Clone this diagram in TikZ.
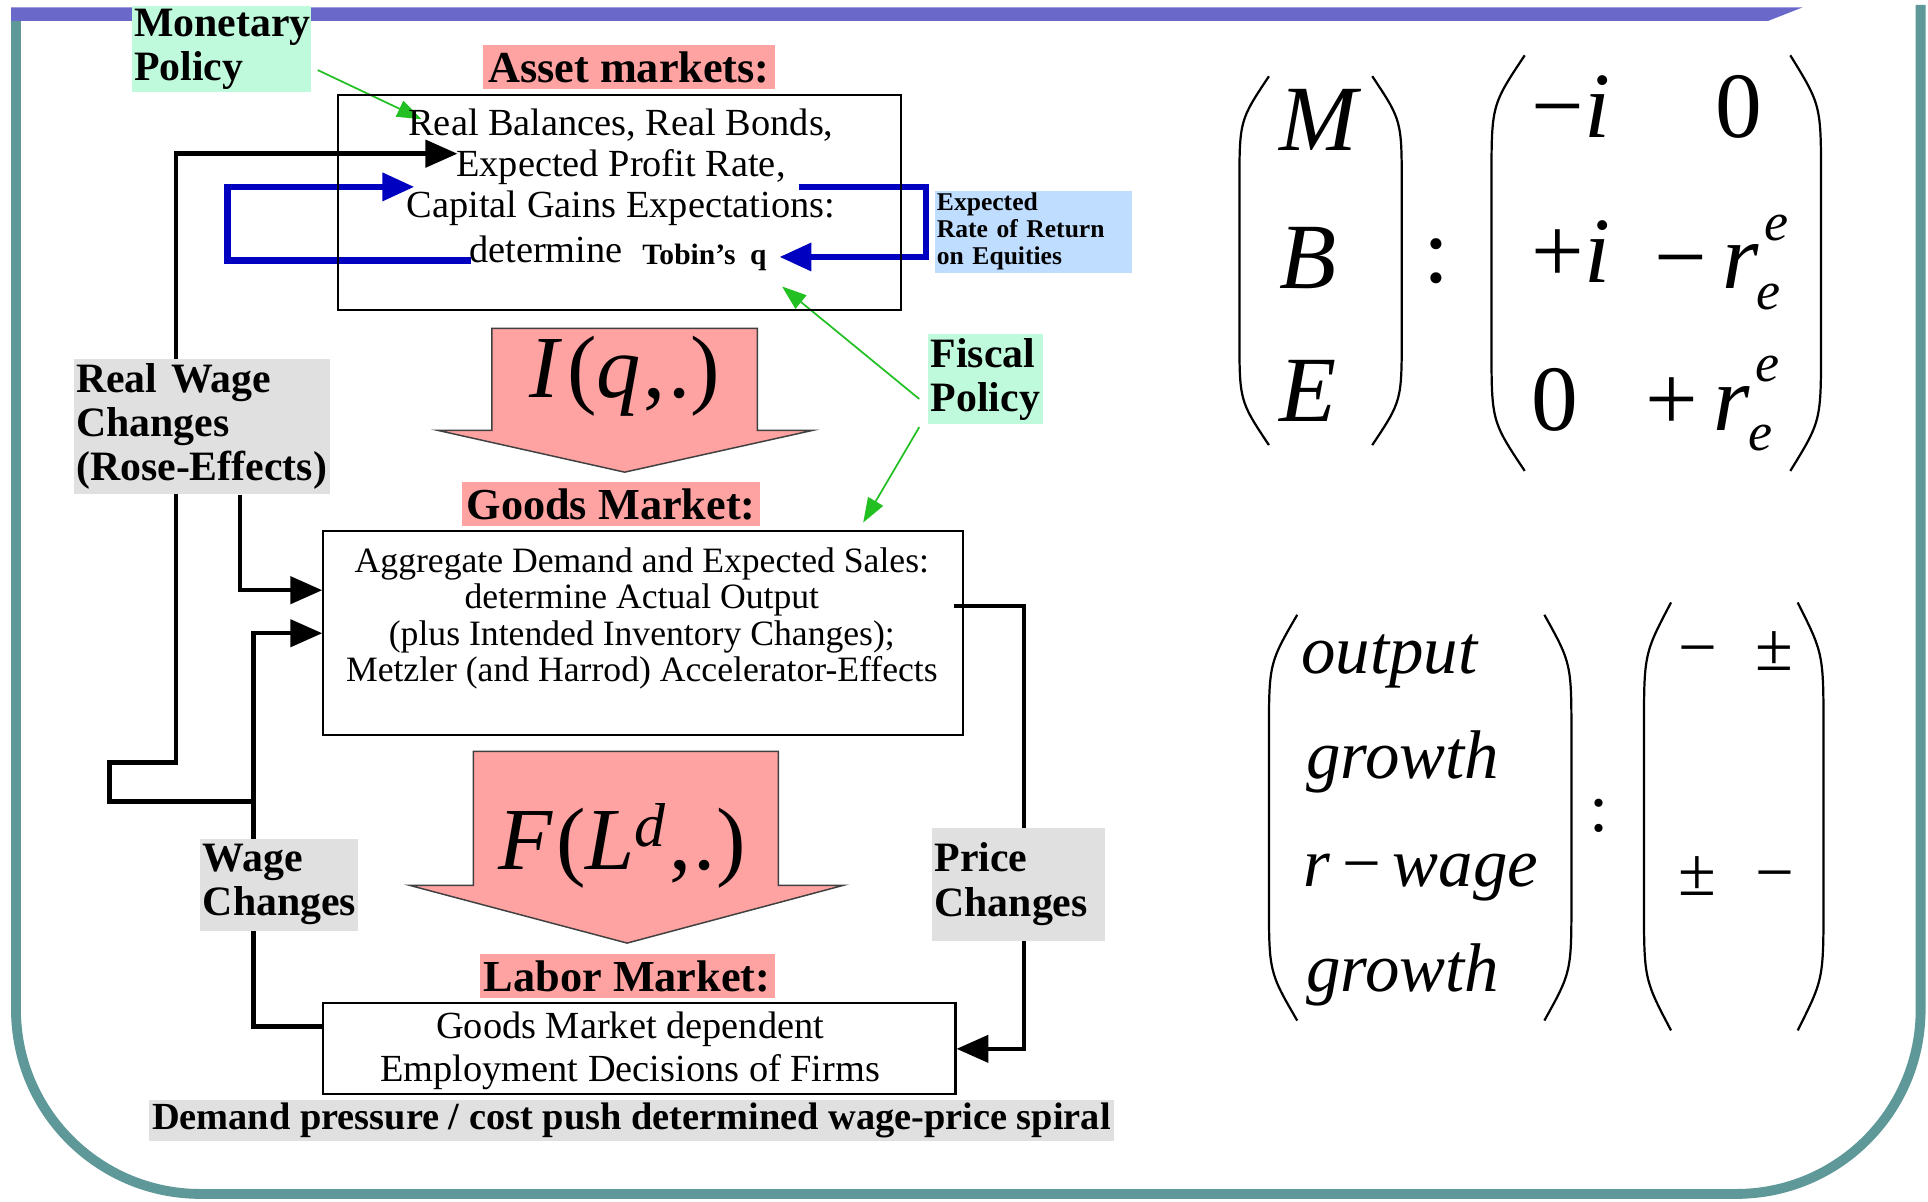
\documentclass[tikz,border=0pt]{standalone}
\usepackage{amsmath}
\usepackage{fontspec}
\setmainfont{Liberation Serif}
\usetikzlibrary{arrows.meta,backgrounds}

\definecolor{framecol}{HTML}{5F9898}
\definecolor{barcol}{HTML}{6A68C8}
\definecolor{pinkcol}{HTML}{FFA2A2}
\definecolor{mintcol}{HTML}{C0FADC}
\definecolor{greycol}{HTML}{E0E0E0}
\definecolor{skycol}{HTML}{BEDDFF}
\definecolor{loopblue}{HTML}{0000C0}
\definecolor{policygreen}{HTML}{22C022}

\tikzset{
  lbl/.style={inner xsep=1pt, inner ysep=0pt, align=left, font=\bfseries\fontsize{17}{18}\selectfont},
  mktlbl/.style={fill=pinkcol, inner sep=0pt, font=\bfseries\fontsize{18}{20}\selectfont},
  mktbox/.style={draw, line width=0.9pt, inner sep=0pt},
  mkttxt/.style={inner sep=0pt, align=center},
  feedback/.style={line width=1.8pt, ->},
  qloop/.style={loopblue, line width=2.6pt, ->},
  policy/.style={policygreen, line width=0.7pt, -{Triangle[length=10pt,width=7pt]}},
  bigarrow/.style={fill=pinkcol, draw=black!75, line width=0.6pt},
  mat/.style={inner sep=0pt, anchor=base west, font=\fontsize{38}{40}\selectfont},
  mattwo/.style={inner sep=0pt, anchor=base west, font=\fontsize{28}{30}\selectfont},
  paren/.style={line width=0.9pt}
}

% parenthesis: end x, bulge x, top y, bottom y
\newcommand{\mparen}[4]{%
  \draw[paren] (#1,#3) .. controls (#2,{#3+0.12*(#4-#3)}) .. (#2,{#3+0.3*(#4-#3)})
    -- (#2,{#4-0.3*(#4-#3)}) .. controls (#2,{#4-0.12*(#4-#3)}) .. (#1,#4);}
% expected rate of return r_e^e
\newcommand{\ree}{\textit{r}\kern-1pt\rlap{\kern3pt\raisebox{0.52em}{\fontsize{22}{22}\selectfont\textit{e}}}%
  \raisebox{-0.22em}{\fontsize{22}{22}\selectfont\textit{e}}}

\begin{document}
\begin{tikzpicture}[x=0.5pt, y=-0.5pt, >={Triangle[length=13pt,width=11pt]}]
	\useasboundingbox (0,0) rectangle (1568,977);
	% free ends of the arrows
	\coordinate (mtip) at (343,97);
	\coordinate (rwtip) at (372,125);
	\coordinate (wj) at (206,652);
	\coordinate (qr) at (650,152);
	\coordinate (ql) at (383,212);
	\coordinate (qtip) at (337,152);
	\coordinate (ftipa) at (636,233);
	\coordinate (ftipb) at (702,425);

	% policy labels
	\node[lbl, fill=mintcol, minimum width=73pt, minimum height=35pt, text width=71pt] (monetary) at (180,40) {Monetary\\Policy};
	\node[lbl, fill=mintcol, minimum width=46.5pt, minimum height=36.5pt, text width=44.5pt] (fiscal) at (801.5,308.5) {Fiscal\\Policy};
	\node[lbl, fill=skycol, minimum width=80.5pt, minimum height=33.5pt, text width=78.5pt, font=\bfseries\fontsize{10.4}{11}\selectfont] (eqr) at (840.5,188.5) {Expected\\Rate of Return\\on Equities};

	% asset market
	\node[mktlbl, minimum width=118.5pt, minimum height=17.5pt] (assetlbl) at (511.5,54.5) {Asset markets:};
	\node[mktbox, minimum width=229pt, minimum height=87.5pt] (asset) at (504,164.5) {};
	\node[mkttxt, font=\fontsize{15.6}{16.5}\selectfont] (assettxt) at (505,136) {Real Balances, Real Bonds,\\Expected Profit Rate,\\Capital Gains Expectations:};
	\node[mkttxt, font=\fontsize{15.6}{16.5}\selectfont] (determine) at (444,203) {determine};
	\node[mkttxt, font=\bfseries\fontsize{12}{13}\selectfont] (tobin) at (573,209) {Tobin's~~q};

	% investment arrow
	\draw[bigarrow] (400,267) -- (616,267) -- (616,350) -- (661,350) -- (508,384) -- (356,350) -- (400,350) -- cycle;
	\node[inner sep=0pt, font=\fontsize{36}{36}\selectfont] (iq) at (508,306) {\textit{I}\kern2pt(\textit{q}\kern1pt,\kern1pt.)};

	% goods market
	\node[mktlbl, minimum width=121pt, minimum height=18pt] (goodslbl) at (497,410) {Goods Market:};
	\node[mktbox, minimum width=260pt, minimum height=83pt] (goods) at (523,515) {};
	\node[mkttxt, font=\fontsize{14.5}{14.75}\selectfont] (goodstxt) at (522,503) {Aggregate Demand and Expected Sales:\\determine Actual Output\\(plus Intended Inventory Changes);\\Metzler (and Harrod) Accelerator-Effects};

	% production arrow
	\draw[bigarrow] (385,611) -- (633,611) -- (633,720) -- (686,720) -- (510,767) -- (333,720) -- (385,720) -- cycle;
	\node[inner sep=0pt, font=\fontsize{36}{36}\selectfont] (fl) at (506,688) {\textit{F}\kern1pt(\textit{L}$^{\textit{d}}$\kern1pt,\kern1pt.)};

	% labor market
	\node[mktlbl, minimum width=120pt, minimum height=18pt] (laborlbl) at (510,794) {Labor Market:};
	\node[mktbox, minimum width=257pt, minimum height=37pt] (labor) at (520,853) {};
	\node[mkttxt, font=\fontsize{15.6}{17.5}\selectfont] (labortxt) at (512.5,855) {Goods Market dependent\\Employment Decisions of Firms};

	% change labels
	\node[lbl, fill=greycol, minimum width=104pt, minimum height=55pt, text width=102pt] (rwage) at (164,347) {Real Wage\\Changes\\(Rose-Effects)};
	\node[lbl, fill=greycol, minimum width=64pt, minimum height=37.5pt, text width=62pt] (wchg) at (227,719.5) {Wage\\Changes};
	\node[lbl, fill=greycol, minimum width=70.5pt, minimum height=46pt, text width=68.5pt] (pchg) at (828.5,719) {Price\\Changes};
	\node[lbl, fill=greycol, minimum width=392.5pt, minimum height=16.5pt, align=center, font=\bfseries\fontsize{15.6}{16}\selectfont] (spiral) at (513.5,911.5) {Demand pressure / cost push determined wage-price spiral};

	% matrices
	\node[mat] (mM) at (1040,122) {\textit{M}};
	\node[mat] (mB) at (1040,235) {\textit{B}};
	\node[mat] (mE) at (1040,343) {\textit{E}};
	\node[mat] (colona) at (1157,230) {:};
	\node[mat] (a11) at (1245,112) {−\textit{i}};
	\node[mat] (a12) at (1395,112) {0};
	\node[mat] (a21) at (1245,230) {+\textit{i}};
	\node[mat] (a22) at (1345,235) {−\,\ree};
	\node[mat] (a31) at (1245,350) {0};
	\node[mat] (a32) at (1338,350) {+\,\ree};
	\mparen{1032}{1008}{62}{362}
	\mparen{1116}{1140}{62}{362}
	\mparen{1240}{1213}{45}{383}
	\mparen{1456}{1481}{45}{383}

	\node[mattwo] (vo) at (1058,548) {\textit{output}};
	\node[mattwo] (vga) at (1062,633) {\textit{growth}};
	\node[mattwo] (vr) at (1060,721) {\textit{r}\,−\,\textit{wage}};
	\node[mattwo] (vgb) at (1062,806) {\textit{growth}};
	\node[mattwo] (colonb) at (1292,676) {:};
	\node[mattwo] (b11) at (1365,545) {−};
	\node[mattwo] (b12) at (1427,545) {±};
	\node[mattwo] (b21) at (1365,728) {±};
	\node[mattwo] (b22) at (1427,728) {−};
	\mparen{1055}{1032}{500}{830}
	\mparen{1256}{1278}{500}{830}
	\mparen{1359}{1337}{490}{838}
	\mparen{1462}{1483}{490}{838}

	\begin{scope}[on background layer]
		\fill[white] (0,0) rectangle (1568,977);
		% frame
		\draw[framecol, line width=4pt, rounded corners=75pt] (13,17) -- (13,971) -- (1562,971) -- (1562,4);
		\fill[barcol] (9,6) -- (1466,6) -- (1438,17) -- (9,17) -- cycle;
		% feedback loops
		\draw[feedback] (wj) -- ++(-117,0) -- ++(0,-32) -- ++(54,0) |- (rwtip);
		\draw[feedback] ([xshift=15.5pt]rwage.south) |- ([yshift=17.5pt]goods.west);
		\draw[feedback] ([yshift=9pt]labor.west) -| (wj) |- (goods.west);
		\draw[feedback] ([shift={(-4pt,11pt)}]goods.east) -- ++(57,0) |- (labor.east);
		\draw[qloop] (qr) -- ++(103,0) |- ([xshift=5pt]tobin.east);
		\draw[qloop] (ql) -- ++(-198,0) |- (qtip);
		% policy arrows
		\draw[policy] ([shift={(2.5pt,-8.5pt)}]monetary.east) -- (mtip);
		\draw[policy] ([shift={(-3.5pt,-8pt)}]fiscal.west) -- (ftipa);
		\draw[policy] ([shift={(-3.5pt,-1pt)}]fiscal.south west) -- (ftipb);
	\end{scope}
\end{tikzpicture}
\end{document}
